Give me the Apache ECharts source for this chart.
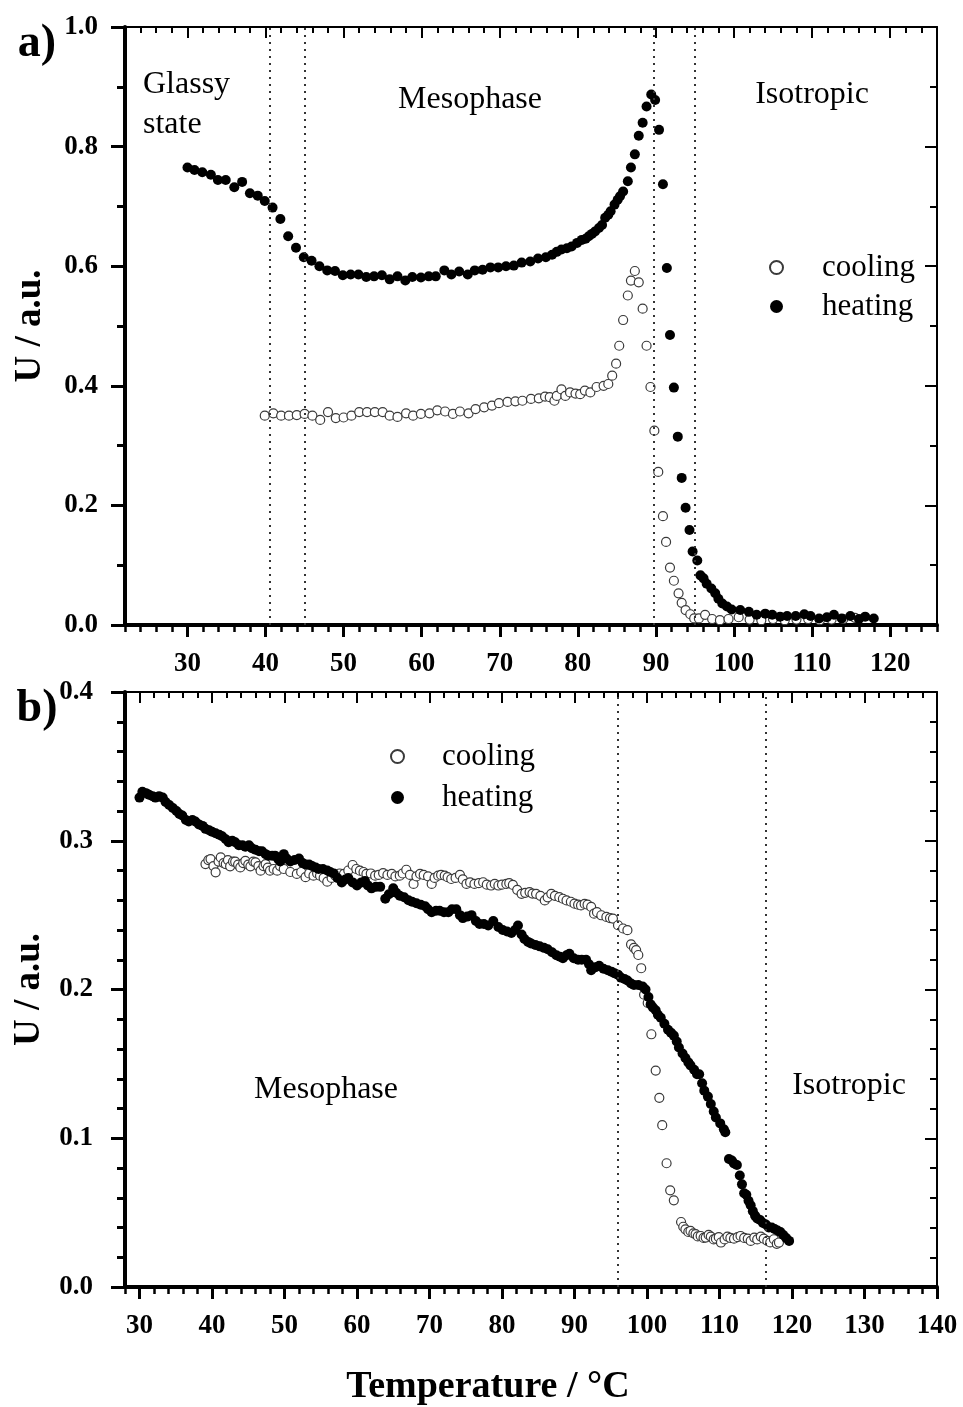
<!DOCTYPE html>
<html>
<head>
<meta charset="utf-8">
<script src="https://cdn.jsdelivr.net/npm/echarts@6/dist/echarts.min.js"></script>
<style>html,body{margin:0;padding:0;background:#fff;}#c{width:963px;height:1407px;}</style>
</head>
<body>
<div id="c"></div>
<script>
// ---------- DATA ----------
// panel a) : [temperature °C, U a.u.]
const aHeating = [
[30.0,.765],[30.9,.761],[31.9,.757],[33.0,.753],[33.9,.744],[34.9,.744],[36.0,.732],[37.0,.741],[38.0,.722],[39.0,.718],
[39.9,.709],[40.9,.698],[41.9,.679],[42.9,.650],[43.9,.631],[44.9,.615],[45.9,.609],[46.9,.600],[47.9,.593],[48.9,.592],
[49.9,.585],[50.9,.586],[51.9,.586],[52.9,.582],[53.9,.583],[54.9,.585],[55.9,.578],[56.9,.583],[57.9,.576],[58.8,.582],
[59.9,.581],[60.9,.583],[61.8,.583],[62.9,.593],[63.8,.586],[64.8,.591],[65.9,.586],[66.8,.593],[67.8,.594],[68.8,.598],
[69.8,.598],[70.8,.600],[71.8,.601],[72.8,.606],[73.9,.608],[74.9,.613],[75.9,.615],[76.7,.619],[77.3,.624],[77.9,.628],
[78.6,.630],[79.2,.633],[79.9,.639],[80.5,.644],[81.0,.646],[81.4,.650],[81.8,.654],[82.2,.658],[82.7,.664],[83.1,.669],
[83.5,.681],[83.9,.686],[84.2,.692],[84.7,.703],[85.1,.711],[85.4,.717],[85.8,.725],[86.4,.742],[86.8,.765],[87.3,.787],
[87.8,.818],[88.3,.840],[88.8,.867],[89.4,.887],[89.9,.878],[90.4,.828],[90.9,.737],[91.4,.597],[91.8,.485],[92.3,.397],
[92.8,.315],[93.3,.246],[93.8,.196],[94.3,.159],[94.7,.123],[95.3,.108],[95.7,.083],[96.1,.078],[96.5,.069],[97.1,.061],
[97.6,.053],[98.0,.044],[98.5,.036],[99.1,.031],[99.7,.026],[100.8,.025],[101.9,.022],[102.9,.017],[104.0,.019],[104.9,.017],
[105.9,.014],[106.8,.015],[107.9,.015],[109.0,.018],[109.8,.015],[110.9,.011],[111.9,.013],[112.8,.017],[113.8,.011],[114.9,.015],
[116.0,.010],[116.8,.014],[117.9,.011]
];
const aCooling = [
[39.9,.350],[41.0,.354],[42.0,.350],[43.0,.350],[44.0,.351],[45.0,.353],[46.0,.350],[47.0,.343],[48.0,.356],[49.0,.346],
[50.0,.347],[51.0,.350],[52.0,.356],[53.0,.356],[54.0,.356],[55.0,.356],[55.9,.350],[56.9,.348],[58.0,.354],[58.9,.350],
[59.9,.353],[61.0,.354],[62.0,.359],[63.0,.357],[64.0,.353],[64.9,.357],[66.0,.354],[66.9,.361],[68.0,.364],[69.0,.367],
[69.9,.371],[71.0,.373],[72.0,.374],[72.9,.375],[74.0,.378],[75.0,.379],[75.8,.382],[76.4,.381],[77.0,.375],[77.3,.383],
[77.9,.394],[78.4,.383],[79.0,.389],[79.7,.387],[80.3,.386],[80.9,.392],[81.6,.389],[82.4,.398],[83.3,.400],[83.9,.403],
[84.4,.417],[84.9,.437],[85.3,.467],[85.8,.510],[86.4,.551],[86.8,.576],[87.3,.592],[87.8,.573],[88.3,.529],[88.8,.467],
[89.3,.398],[89.8,.325],[90.3,.256],[90.9,.182],[91.3,.139],[91.8,.096],[92.3,.074],[92.9,.053],[93.3,.037],[93.8,.025],
[94.4,.018],[94.9,.011],[95.5,.011],[96.3,.017],[97.2,.010],[98.2,.008],[99.3,.010],[100.6,.013],[102.0,.009],[103.5,.008],
[105.0,.010],[106.5,.008],[108.0,.009],[109.5,.010],[111.0,.008],[112.5,.009],[114.0,.010],[115.5,.012]
];
// panel b)
const bHeating = [
[30.0,.329],[30.4,.333],[30.9,.332],[31.3,.331],[31.8,.330],[32.2,.329],[32.7,.330],[33.2,.329],[33.6,.326],[34.1,.324],
[34.6,.322],[35.1,.320],[35.5,.318],[35.9,.317],[36.4,.314],[36.8,.313],[37.3,.314],[37.7,.313],[38.2,.311],[38.7,.310],
[39.1,.308],[39.6,.307],[40.0,.306],[40.5,.305],[41.0,.304],[41.4,.303],[41.9,.301],[42.3,.299],[42.8,.300],[43.2,.299],
[43.7,.297],[44.2,.297],[44.6,.296],[45.1,.297],[45.5,.295],[46.0,.294],[46.5,.293],[46.9,.293],[47.4,.291],[47.8,.290],
[48.3,.290],[48.7,.290],[49.1,.288],[49.4,.286],[49.9,.291],[50.3,.288],[50.8,.286],[51.4,.287],[52.0,.288],[52.5,.285],
[52.9,.284],[53.4,.284],[53.8,.283],[54.3,.282],[54.7,.281],[55.3,.281],[55.9,.280],[56.3,.279],[56.8,.278],[57.3,.275],
[57.9,.272],[58.4,.274],[58.8,.275],[59.4,.272],[60.0,.270],[60.6,.272],[61.1,.273],[61.5,.270],[62.0,.268],[62.6,.269],
[63.2,.269],[63.9,.261],[64.4,.264],[65.0,.268],[65.4,.265],[65.9,.263],[66.5,.262],[67.1,.260],[67.6,.259],[68.2,.258],
[68.8,.257],[69.4,.256],[69.8,.254],[70.3,.252],[70.9,.253],[71.4,.253],[72.0,.252],[72.6,.252],[73.1,.254],[73.7,.254],
[74.2,.250],[74.6,.248],[75.2,.249],[75.8,.250],[76.4,.246],[76.9,.244],[77.5,.244],[78.1,.243],[78.8,.246],[79.5,.242],
[80.1,.240],[80.7,.239],[81.3,.238],[81.8,.240],[82.2,.243],[82.7,.237],[83.1,.234],[83.6,.232],[84.0,.231],[84.6,.230],
[85.2,.229],[85.8,.228],[86.3,.227],[86.9,.225],[87.5,.223],[88.0,.222],[88.4,.221],[88.9,.223],[89.3,.224],[89.9,.221],
[90.5,.220],[91.0,.220],[91.6,.220],[92.0,.217],[92.3,.213],[92.9,.215],[93.4,.216],[94.0,.214],[94.6,.213],[95.1,.212],
[95.5,.211],[96.0,.210],[96.4,.208],[96.9,.207],[97.3,.206],[97.8,.204],[98.2,.203],[98.8,.203],[99.4,.202],[99.8,.200],
[100.2,.195],[100.5,.190],[100.8,.188],[101.2,.186],[101.5,.183],[101.9,.181],[102.4,.177],[102.9,.173],[103.3,.171],[103.7,.169],
[104.1,.165],[104.4,.161],[104.9,.157],[105.3,.154],[105.7,.151],[106.0,.149],[106.5,.146],[106.9,.143],[107.2,.143],[107.6,.137],
[107.9,.132],[108.4,.128],[108.8,.123],[109.2,.118],[109.5,.114],[110.1,.110],[110.6,.106],[110.8,.104],[111.3,.086],[111.7,.085],
[112.0,.083],[112.4,.082],[112.8,.075],[113.1,.069],[113.4,.063],[113.7,.062],[114.0,.058],[114.3,.055],[114.6,.051],[114.9,.048],
[115.2,.046],[115.6,.045],[116.0,.043],[116.4,.042],[116.8,.040],[117.2,.040],[117.6,.039],[118.0,.038],[118.4,.037],[118.8,.035],
[119.2,.033],[119.6,.031]
];
const bCooling = [
[39.1,.2843],[39.5,.2870],[39.8,.2877],[40.2,.2830],[40.5,.2788],[40.9,.2860],[41.2,.2888],[41.6,.2850],[41.9,.2843],[42.2,.2870],
[42.5,.2828],[42.9,.2860],[43.2,.2859],[43.6,.2840],[43.9,.2821],[44.3,.2850],[44.6,.2865],[45.0,.2840],[45.3,.2828],[45.7,.2860],
[46.0,.2855],[46.4,.2830],[46.7,.2799],[47.1,.2830],[47.4,.2843],[47.7,.2820],[48.0,.2799],[48.5,.2810],[49.0,.2799],[49.4,.2830],
[49.9,.2810],[50.8,.2790],[51.7,.2777],[52.3,.2790],[52.9,.2755],[53.4,.2780],[54.0,.2765],[54.5,.2780],[54.9,.2765],[55.4,.2750],
[55.9,.2725],[56.5,.2750],[57.0,.2765],[57.6,.2780],[58.2,.2777],[58.8,.2800],[59.4,.2837],[59.9,.2810],[60.4,.2799],[60.9,.2790],
[61.3,.2777],[61.9,.2780],[62.5,.2765],[63.0,.2770],[63.6,.2783],[64.2,.2770],[64.8,.2777],[65.3,.2760],[65.9,.2765],[66.3,.2780],
[66.8,.2805],[67.3,.2770],[67.8,.2710],[68.2,.2760],[68.7,.2777],[69.2,.2770],[69.8,.2761],[70.3,.2710],[70.7,.2750],[71.2,.2765],
[71.6,.2770],[72.1,.2765],[72.5,.2755],[73.0,.2743],[73.6,.2750],[74.2,.2770],[74.6,.2740],[75.1,.2710],[75.6,.2720],[76.2,.2710],
[76.8,.2715],[77.4,.2721],[77.9,.2705],[78.5,.2699],[79.0,.2710],[79.5,.2699],[80.0,.2705],[80.6,.2710],[81.0,.2715],[81.5,.2703],
[82.1,.2670],[82.7,.2643],[83.2,.2650],[83.8,.2655],[84.2,.2645],[84.7,.2643],[85.3,.2630],[85.9,.2599],[86.3,.2620],[86.8,.2643],
[87.3,.2630],[87.9,.2621],[88.4,.2610],[88.9,.2599],[89.5,.2590],[90.0,.2577],[90.5,.2570],[90.9,.2565],[91.4,.2575],[91.8,.2570],
[92.3,.2555],[92.7,.2510],[93.1,.2520],[93.7,.2499],[94.4,.2488],[94.9,.2480],[95.3,.2477],[96.0,.2432],[96.7,.2410],[97.3,.2399],
[97.8,.2303],[98.2,.2280],[98.5,.2265],[98.8,.2232],[99.2,.2143],[99.6,.1965],[100.1,.1910],[100.6,.1699],[101.2,.1455],[101.7,.1272],
[102.1,.1088],[102.7,.0832],[103.2,.0650],[103.7,.0583],[104.7,.0437],[105.0,.0405],[105.3,.0388],[105.7,.0370],[106.0,.0377],[106.4,.0360],
[106.7,.0355],[107.0,.0340],[107.4,.0343],[107.8,.0330],[108.1,.0332],[108.5,.0350],[108.8,.0339],[109.2,.0320],[109.5,.0325],[109.9,.0335],
[110.2,.0299],[110.7,.0320],[111.1,.0339],[111.5,.0330],[112.0,.0325],[112.5,.0335],[112.9,.0343],[113.4,.0330],[113.9,.0325],[114.3,.0310],
[114.8,.0332],[115.2,.0320],[115.7,.0339],[116.1,.0325],[116.6,.0310],[117.0,.0300],[117.5,.0321],[117.9,.0290],[118.2,.0299]
];
// phase boundaries (dotted vertical lines)
const aTransitions = [40.5, 45.0, 89.7, 95.0];
const bTransitions = [96.0, 116.4];
// axis ranges and tick labels
const aXRange = [22, 126];
const bXRange = [28, 140];
const aXTicks = [30, 40, 50, 60, 70, 80, 90, 100, 110, 120];
const bXTicks = [30, 40, 50, 60, 70, 80, 90, 100, 110, 120, 130, 140];
const aYRange = [0, 1.0], aYStep = 0.2;
const bYRange = [0, 0.4], bYStep = 0.1;
const seriesNames = ['cooling', 'heating'];

// ---------- CHART ----------
const SERIF = '"Liberation Serif", "Times New Roman", serif';
const chart = echarts.init(document.getElementById('c'), null, {renderer: 'canvas'});

function xAxesFor(gridIndex, range, ticks, withName) {
  const base = {gridIndex, type: 'value', min: range[0], max: range[1], splitLine: {show: false}};
  return [
    Object.assign({}, base, { // bottom main: labels + major ticks
      position: 'bottom',
      axisLine: {show: true, onZero: false, lineStyle: {color: '#000', width: 4}},
      axisTick: {show: true, customValues: ticks, length: 12, lineStyle: {color: '#000', width: 3}},
      axisLabel: {show: true, customValues: ticks, margin: 26, color: '#000', fontFamily: SERIF, fontWeight: 'bold', fontSize: 27},
      name: withName ? 'Temperature / °C' : '',
      nameLocation: 'middle', nameGap: 81,
      nameTextStyle: {color: '#000', fontFamily: SERIF, fontWeight: 'bold', fontSize: 38, padding: [0, 86, 0, 0]}
    }),
    Object.assign({}, base, { // bottom minor ticks
      position: 'bottom', interval: 2,
      axisLine: {show: false, onZero: false},
      axisTick: {show: true, length: 7, lineStyle: {color: '#000', width: 2.5}},
      axisLabel: {show: false}
    }),
    Object.assign({}, base, { // top frame: major ticks inside
      position: 'top',
      axisLine: {show: true, onZero: false, lineStyle: {color: '#000', width: 2}},
      axisTick: {show: true, inside: true, customValues: ticks, length: 11, lineStyle: {color: '#000', width: 2}},
      axisLabel: {show: false}
    }),
    Object.assign({}, base, { // top minor ticks inside
      position: 'top', interval: 2,
      axisLine: {show: false, onZero: false},
      axisTick: {show: true, inside: true, length: 6, lineStyle: {color: '#000', width: 2}},
      axisLabel: {show: false}
    })
  ];
}
function yAxesFor(gridIndex, range, step, nameGap, labelMargin) {
  const base = {gridIndex, type: 'value', min: range[0], max: range[1], interval: step, splitLine: {show: false}};
  return [
    Object.assign({}, base, {
      position: 'left',
      name: 'U / a.u.', nameLocation: 'middle', nameGap: nameGap,
      nameTextStyle: {color: '#000', fontFamily: SERIF, fontWeight: 'bold', fontSize: 37},
      axisLine: {show: true, onZero: false, lineStyle: {color: '#000', width: 4}},
      axisTick: {show: true, length: 14, lineStyle: {color: '#000', width: 3}},
      minorTick: {show: true, splitNumber: step === 0.2 ? 2 : 5, length: 8, lineStyle: {color: '#000', width: 3}},
      axisLabel: {show: true, margin: labelMargin, color: '#000', fontFamily: SERIF, fontWeight: 'bold', fontSize: 27,
        formatter: v => v.toFixed(1)}
    }),
    Object.assign({}, base, {
      position: 'right',
      axisLine: {show: true, onZero: false, lineStyle: {color: '#000', width: 2}},
      axisTick: {show: true, inside: true, length: 12, lineStyle: {color: '#000', width: 2}},
      minorTick: {show: true, splitNumber: step === 0.2 ? 2 : 5, length: 7, lineStyle: {color: '#000', width: 2}},
      axisLabel: {show: false}
    })
  ];
}
function vLines(vals) {
  return {
    silent: true, symbol: ['none', 'none'], label: {show: false},
    lineStyle: {color: '#333', type: [2, 5], width: 2, opacity: 1},
    data: vals.map(v => ({xAxis: v}))
  };
}
const coolStyle = {color: '#fff', borderColor: '#3a3a3a', borderWidth: 1.2, opacity: 1};
const heatStyle = {color: '#000', opacity: 1};
const txt = (text, x, y, size, weight, align) => ({
  type: 'text', x, y, silent: true,
  style: {text, fill: '#000', font: (weight || 'normal') + ' ' + size + 'px ' + SERIF,
    textAlign: align || 'center', textVerticalAlign: 'middle'}
});

const option = {
  backgroundColor: '#fff',
  animation: false,
  grid: [
    {left: 125, right: 26, top: 27, height: 598},
    {left: 125, right: 26, top: 692, height: 600}
  ],
  xAxis: [].concat(xAxesFor(0, aXRange, aXTicks, false), xAxesFor(1, bXRange, bXTicks, true)),
  yAxis: [].concat(yAxesFor(0, aYRange, aYStep, 76, 27), yAxesFor(1, bYRange, bYStep, 76, 32)),
  legend: [
    {data: [{name: 'cooling'}, {name: 'heating'}], orient: 'vertical', left: 764, top: 247,
      itemWidth: 13, itemHeight: 13, itemGap: 8, selectedMode: false,
      textStyle: {color: '#000', fontFamily: SERIF, fontSize: 31, padding: [0, 0, 0, 34]}},
    {data: [{name: 'cooling '}, {name: 'heating '}], orient: 'vertical', left: 385, top: 736,
      itemWidth: 13, itemHeight: 13, itemGap: 10, selectedMode: false,
      textStyle: {color: '#000', fontFamily: SERIF, fontSize: 31, padding: [0, 0, 0, 33]}}
  ],
  series: [
    {name: seriesNames[0], type: 'scatter', xAxisIndex: 0, yAxisIndex: 0, data: aCooling, symbol: 'circle', symbolSize: 9, itemStyle: coolStyle, z: 2},
    {name: seriesNames[1], type: 'scatter', xAxisIndex: 0, yAxisIndex: 0, data: aHeating, symbol: 'circle', symbolSize: 10, itemStyle: heatStyle, z: 3,
      markLine: vLines(aTransitions)},
    {name: seriesNames[0] + ' ', type: 'scatter', xAxisIndex: 4, yAxisIndex: 2, data: bCooling, symbol: 'circle', symbolSize: 9, itemStyle: coolStyle, z: 2},
    {name: seriesNames[1] + ' ', type: 'scatter', xAxisIndex: 4, yAxisIndex: 2, data: bHeating, symbol: 'circle', symbolSize: 10, itemStyle: heatStyle, z: 3,
      markLine: vLines(bTransitions)}
  ],
  graphic: [
    txt('a)', 37, 44, 46, 'bold'),
    txt('b)', 37, 709, 46, 'bold'),
    txt('Glassy', 143, 85, 32, 'normal', 'left'),
    txt('state', 143, 125, 32, 'normal', 'left'),
    txt('Mesophase', 470, 100, 32),
    txt('Isotropic', 812, 95, 32),
    txt('Mesophase', 326, 1090, 32),
    txt('Isotropic', 849, 1086, 32)
  ]
};
chart.setOption(option);
</script>
</body>
</html>
